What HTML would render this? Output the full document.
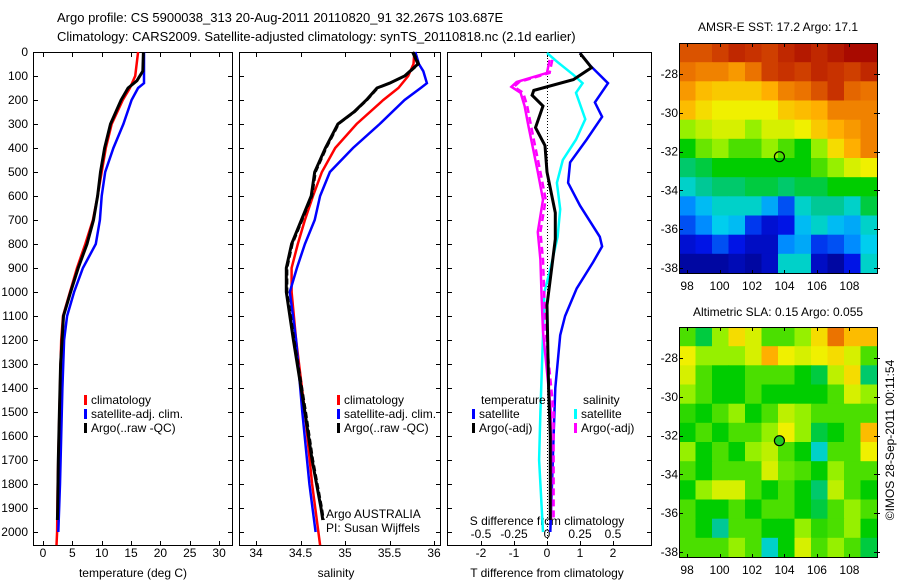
<!DOCTYPE html>
<html><head><meta charset="utf-8"><style>
body{margin:0;background:#fff;}
svg{display:block;font-family:"Liberation Sans",sans-serif;}
text{font-size:12px;fill:#000;}
</style></head><body>
<svg id="c" width="900" height="580" viewBox="0 0 900 580">
<text x="57" y="22" style="font-size:13px">Argo profile: CS 5900038_313 20-Aug-2011 20110820_91 32.267S 103.687E</text>
<text x="57" y="41" style="font-size:13px">Climatology: CARS2009. Satellite-adjusted climatology: synTS_20110818.nc (2.1d earlier)</text>
<g id="g"></g>
</svg>
<script>
// ---- data ----
const depthTicks=[0,100,200,300,400,500,600,700,800,900,1000,1100,1200,1300,1400,1500,1600,1700,1800,1900,2000];
const tempTicks=[0,5,10,15,20,25,30];
const salTicks=[34,34.5,35,35.5,36];
const salTickLabels=["34","34.5","35","35.5","36"];
const tdiffTicks=[-2,-1,0,1,2];
const sdiffTicks=[-0.5,-0.25,0,0.25,0.5];
const sdiffTickLabels=["-0.5","-0.25","0","0.25","0.5"];
const lonTicks=[98,100,102,104,106,108];
const latTicks=[-28,-30,-32,-34,-36,-38];

const tClimD=[0,100,150,200,300,400,500,600,700,800,900,1000,1100,1200,1400,1600,1800,2000,2055];
const tClimV=[16.2,15.7,14.8,13.6,11.7,10.7,10,9.3,8.5,7.2,5.8,4.6,3.4,3.1,2.9,2.7,2.5,2.4,2.3];
const tSatD=[0,130,150,200,300,400,500,600,700,800,900,1000,1100,1200,1400,1600,1800,2000];
const tSatV=[17.2,17.2,16.2,15.1,13.7,12,10.6,10,9.7,9,6.8,5.3,4.1,3.6,3.3,3.1,2.9,2.6];
const tArgoD=[0,80,120,150,200,300,400,500,600,700,800,900,1000,1100,1300,1500,1700,1900,1950];
const tArgoV=[17.1,17,16,14.5,13.3,11.5,10.5,9.8,9.3,8.6,7.5,6,4.7,3.5,3,2.8,2.6,2.5,2.45];

const sClimD=[0,50,100,150,200,300,400,500,600,700,800,900,1000,1200,1500,1800,2055];
const sClimV=[35.78,35.77,35.71,35.6,35.43,35.13,34.89,34.74,34.64,34.55,34.47,34.4,34.4,34.45,34.55,34.63,34.72];
const sSatD=[0,50,80,130,150,200,300,400,500,600,700,800,900,1000,1200,1500,1800,2000];
const sSatV=[35.79,35.83,35.88,35.92,35.85,35.67,35.39,35.09,34.83,34.72,34.66,34.55,34.46,34.38,34.45,34.52,34.6,34.67];
const sArgoD=[0,50,100,130,150,200,250,300,400,500,600,700,800,900,1000,1200,1500,1700,1900,1950];
const sArgoV=[35.76,35.82,35.67,35.5,35.36,35.24,35.1,34.92,34.78,34.66,34.62,34.51,34.4,34.34,34.34,34.42,34.55,34.63,34.73,34.75];

const dTSatD=[4,55,130,210,270,365,460,545,640,770,810,875,985,1100,1180,1400,1600,1800,2000];
const dTSatV=[1.0,1.3,1.85,1.45,1.67,1.2,0.7,0.64,1.0,1.6,1.67,1.4,0.9,0.55,0.4,0.25,0.2,0.15,0.1];
const dTArgoD=[5,65,115,160,180,225,315,390,500,670,780,890,1055,1400,1600,1900,1950];
const dTArgoV=[1.0,1.35,0.8,-0.4,-0.45,-0.12,-0.35,-0.06,0,0.25,0.25,0.15,0,0.05,0.1,0.1,0.1];
const dSSatD=[4,40,95,130,170,280,365,450,545,655,770,905,1000,1180,1500,1700,1900,2000];
const dSSatV=[0,0.075,0.2,0.27,0.22,0.29,0.22,0.12,0.075,0.1,0.08,0.025,-0.02,-0.03,-0.05,-0.06,-0.04,-0.03];
const dSArgoD=[33,87,125,145,170,225,310,365,500,615,750,865,1030,1165,1500,1900,1950];
const dSArgoV=[0.02,0,-0.23,-0.27,-0.2,-0.17,-0.14,-0.12,-0.07,-0.03,-0.07,-0.05,-0.04,-0.03,0.03,0.03,0.03];

const sstGrid=[
[0.85,0.85,0.88,0.92,0.9,0.88,0.92,0.95,0.92,0.95,0.98,0.98],
[0.8,0.78,0.78,0.75,0.8,0.88,0.9,0.88,0.92,0.9,0.88,0.92],
[0.75,0.7,0.68,0.68,0.68,0.72,0.78,0.8,0.85,0.9,0.82,0.8],
[0.7,0.65,0.62,0.62,0.62,0.62,0.68,0.7,0.72,0.78,0.78,0.78],
[0.55,0.58,0.6,0.6,0.55,0.6,0.6,0.62,0.68,0.72,0.75,0.78],
[0.45,0.52,0.55,0.5,0.5,0.55,0.5,0.45,0.55,0.65,0.72,0.78],
[0.4,0.42,0.45,0.45,0.45,0.45,0.45,0.45,0.5,0.55,0.6,0.62],
[0.35,0.38,0.4,0.4,0.42,0.42,0.4,0.42,0.42,0.45,0.45,0.45],
[0.25,0.3,0.35,0.35,0.35,0.28,0.2,0.35,0.38,0.38,0.35,0.42],
[0.2,0.25,0.32,0.3,0.18,0.12,0.15,0.3,0.35,0.3,0.28,0.35],
[0.12,0.15,0.2,0.15,0.1,0.1,0.25,0.28,0.18,0.2,0.25,0.32],
[0.05,0.05,0.05,0.08,0.05,0.1,0.35,0.35,0.1,0.05,0.15,0.35]];
const slaGrid=[
[0.5,0.42,0.55,0.65,0.6,0.5,0.5,0.55,0.65,0.8,0.7,0.7],
[0.62,0.55,0.55,0.55,0.6,0.72,0.62,0.6,0.62,0.65,0.6,0.5],
[0.6,0.5,0.45,0.45,0.5,0.5,0.5,0.45,0.42,0.58,0.65,0.4],
[0.55,0.5,0.45,0.45,0.5,0.45,0.45,0.45,0.45,0.5,0.6,0.55],
[0.48,0.45,0.5,0.55,0.45,0.5,0.58,0.55,0.5,0.5,0.5,0.5],
[0.45,0.5,0.45,0.5,0.5,0.55,0.62,0.55,0.42,0.45,0.5,0.7],
[0.55,0.45,0.5,0.45,0.55,0.58,0.5,0.45,0.35,0.5,0.5,0.62],
[0.5,0.45,0.5,0.5,0.5,0.6,0.52,0.5,0.45,0.55,0.5,0.5],
[0.45,0.55,0.6,0.6,0.5,0.45,0.5,0.45,0.4,0.58,0.5,0.45],
[0.5,0.45,0.45,0.5,0.45,0.5,0.5,0.45,0.42,0.5,0.55,0.5],
[0.5,0.45,0.38,0.5,0.5,0.45,0.45,0.55,0.48,0.5,0.55,0.45],
[0.5,0.5,0.5,0.55,0.5,0.35,0.45,0.6,0.5,0.55,0.5,0.42]];
const argoLon=103.687, argoLat=-32.267;

// ---- helpers ----
const NS="http://www.w3.org/2000/svg";
const G=document.getElementById('g');
function el(t,a,p){const e=document.createElementNS(NS,t);for(const k in a)e.setAttribute(k,a[k]);(p||G).appendChild(e);return e;}
const Y0=52,YS=0.24;
const yD=d=>Y0+d*YS;
const BOT=545;
const xT=t=>43+t*5.87;
const xS=s=>256+(s-34)*89;
const xDT=v=>547+v*33;
const xDS=v=>547+v*132;

function line(xs,ds,fx,color,w,name,dash){
  const pts=xs.map((v,i)=>fx(v).toFixed(1)+','+yD(ds[i]).toFixed(1)).join(' ');
  const e=el('polyline',{points:pts,fill:'none',stroke:color,'stroke-width':w,'stroke-linejoin':'miter'});
  if(dash)e.setAttribute('stroke-dasharray',dash);
  
  
}
function txt(x,y,s,name,anchor,extra){
  const e=el('text',Object.assign({x:x,y:y,'text-anchor':anchor||'start'},extra||{}));
  e.textContent=s;
  
  
  return e;
}
function box(x0,x1,y0,y1,name){
  const e=el('rect',{x:x0+.5,y:y0+.5,width:x1-x0,height:y1-y0,fill:'none',stroke:'#000','stroke-width':1});
  
  
}
function tick(x1,y1,x2,y2){el('line',{x1:x1,y1:y1,x2:x2,y2:y2,stroke:'#000','stroke-width':1});}

// ---- panels ----
const P=[[33,232],[239,440],[447,651]];
P.forEach((p,i)=>{
  box(p[0],p[1],Y0,BOT,'profile-panel-'+(i+1));
  depthTicks.forEach(d=>{const y=Math.round(yD(d))+.5;tick(p[0],y,p[0]+5,y);tick(p[1]-4,y,p[1]+1,y);});
});
depthTicks.forEach(d=>txt(28,yD(d)+4,String(d),'depth-tick-label','end'));
tempTicks.forEach(t=>{const x=Math.round(xT(t))+.5;tick(x,Y0,x,Y0+5);tick(x,BOT-4,x,BOT);txt(xT(t),557,String(t),'temperature-tick-label','middle');});
salTicks.forEach((s,i)=>{const x=Math.round(xS(s))+.5;tick(x,Y0,x,Y0+5);tick(x,BOT-4,x,BOT);txt(xS(s),557,salTickLabels[i],'salinity-tick-label','middle');});
tdiffTicks.forEach(t=>{const x=Math.round(xDT(t))+.5;tick(x,Y0,x,Y0+5);tick(x,BOT-4,x,BOT);txt(xDT(t),557,String(t),'t-difference-tick-label','middle');});
sdiffTicks.forEach((s,i)=>txt(xDS(s),538,sdiffTickLabels[i],'s-difference-tick-label','middle'));
txt(133,577,'temperature (deg C)','x-axis-title-temperature','middle');
txt(336,577,'salinity','x-axis-title-salinity','middle');
txt(547,577,'T difference from climatology','x-axis-title-t-difference','middle');
txt(547,525,'S difference from climatology','s-difference-axis-title','middle');
el('line',{x1:547.5,y1:Y0,x2:547.5,y2:BOT,stroke:'#000','stroke-width':1,'stroke-dasharray':'1,2'});

line(tClimV,tClimD,xT,'#f00',2.5,'temperature-climatology-line');
line(tSatV,tSatD,xT,'#00f',2.5,'temperature-satellite-line');
line(tArgoV,tArgoD,xT,'#000',3,'temperature-argo-line');
line(sClimV,sClimD,xS,'#f00',2.5,'salinity-climatology-line');
line(sSatV,sSatD,xS,'#00f',2.5,'salinity-satellite-line');
line(sArgoV,sArgoD,xS,'#000',3,'salinity-argo-line');
line(sArgoV.map(v=>v+0.015),sArgoD,xS,'#000',1.5,'salinity-argo-adjusted-line','6,3');
line(dTSatV,dTSatD,xDT,'#00f',2.5,'t-diff-satellite-line');
line(dSSatV,dSSatD,xDS,'#0ff',2.5,'s-diff-satellite-line');
line(dSArgoV,dSArgoD,xDS,'#f0f',2.5,'s-diff-argo-line');
line(dSArgoV.map(v=>v+0.02),dSArgoD,xDS,'#f0f',2.5,'s-diff-argo-adjusted-line','7,4');
line(dTArgoV,dTArgoD,xDT,'#000',3,'t-diff-argo-line');

// legends
function leg(x,y,color,label,name){
  const r=el('rect',{x:x,y:y-9,width:3,height:10,fill:color});
  
  txt(x+7,y,label,name);
}
leg(84,404,'#f00','climatology','legend-t-climatology');
leg(84,418,'#00f','satellite-adj. clim.','legend-t-satellite');
leg(84,432,'#000','Argo(..raw -QC)','legend-t-argo');
leg(337,404,'#f00','climatology','legend-s-climatology');
leg(337,418,'#00f','satellite-adj. clim.','legend-s-satellite');
leg(337,432,'#000','Argo(..raw -QC)','legend-s-argo');
txt(481,404,'temperature','legend-temperature-header');
txt(583,404,'salinity','legend-salinity-header');
leg(472,418,'#00f','satellite','legend-diff-t-satellite');
leg(472,432,'#000','Argo(-adj)','legend-diff-t-argo');
leg(574,418,'#0ff','satellite','legend-diff-s-satellite');
leg(574,432,'#f0f','Argo(-adj)','legend-diff-s-argo');
txt(326,518,'Argo AUSTRALIA','argo-australia-label');
txt(326,532,'PI: Susan Wijffels','pi-label');

// ---- maps ----
const cmapStops=[0,0.15,0.25,0.33,0.38,0.45,0.55,0.62,0.72,0.8,0.9,1.0];
const cmapCols=[[0,0,128],[0,20,230],[0,140,255],[0,215,235],[0,200,150],[0,205,0],[150,240,0],[240,240,0],[255,175,0],[235,115,0],[200,50,0],[160,0,0]];
function cmap(v){
  v=Math.max(0,Math.min(1,v));
  let i=0;while(i<cmapStops.length-2&&v>cmapStops[i+1])i++;
  const f=(v-cmapStops[i])/(cmapStops[i+1]-cmapStops[i]);
  const a=cmapCols[i],b=cmapCols[i+1];
  return 'rgb('+a.map((c,k)=>Math.round(c+(b[k]-c)*f)).join(',')+')';
}
const MX0=679,MX1=877,LON0=97.5,LON1=109.7;
const xLon=l=>MX0+(l-LON0)*(MX1-MX0)/(LON1-LON0);
function map(grid,y0,y1,latTop,latBot,title,name,titleY){
  const yLat=l=>y0+(latTop-l)*(y1-y0)/(latTop-latBot);
  const rows=grid.length,cols=grid[0].length;
  const cw=(LON1-LON0)/cols,ch=(latTop-latBot)/rows;
  const gg=el('g',{});
  
  grid.forEach((row,ri)=>row.forEach((v,ci)=>{
    const xa=xLon(LON0+ci*cw),xb=xLon(LON0+(ci+1)*cw),ya=yLat(latTop-ri*ch),yb=yLat(latTop-(ri+1)*ch);
    const c=el('rect',{x:xa.toFixed(1),y:ya.toFixed(1),width:(xb-xa+0.6).toFixed(1),height:(yb-ya+0.6).toFixed(1),fill:cmap(v)},gg);
    
    
  }));
  box(MX0,MX1,y0,y1,name+'-frame');
  lonTicks.forEach(l=>{const x=Math.round(xLon(l))+.5;tick(x,y0,x,y0+4);tick(x,y1-3,x,y1);txt(xLon(l),y1+17,String(l),name+'-lon-label','middle');});
  latTicks.forEach(l=>{const y=Math.round(yLat(l))+.5;tick(MX0,y,MX0+4,y);tick(MX1-3,y,MX1+3,y);txt(MX0-1,yLat(l)+4,String(l),name+'-lat-label','end');});
  txt((MX0+MX1)/2,titleY,title,name+'-title','middle');
  const c=el('circle',{cx:xLon(argoLon),cy:yLat(argoLat),r:5,fill:name==='sla-map'?'#2c2':'none',stroke:'#000','stroke-width':1.2});
  
}
map(sstGrid,43,273,-26.4,-38.27,'AMSR-E SST: 17.2 Argo: 17.1','sst-map',31);
map(slaGrid,327,557,-26.4,-38.27,'Altimetric SLA: 0.15 Argo: 0.055','sla-map',316);
txt(0,0,'©IMOS 28-Sep-2011 00:11:54','copyright-timestamp','middle',{transform:'translate(894,440) rotate(-90)'});
</script>
</body></html>
